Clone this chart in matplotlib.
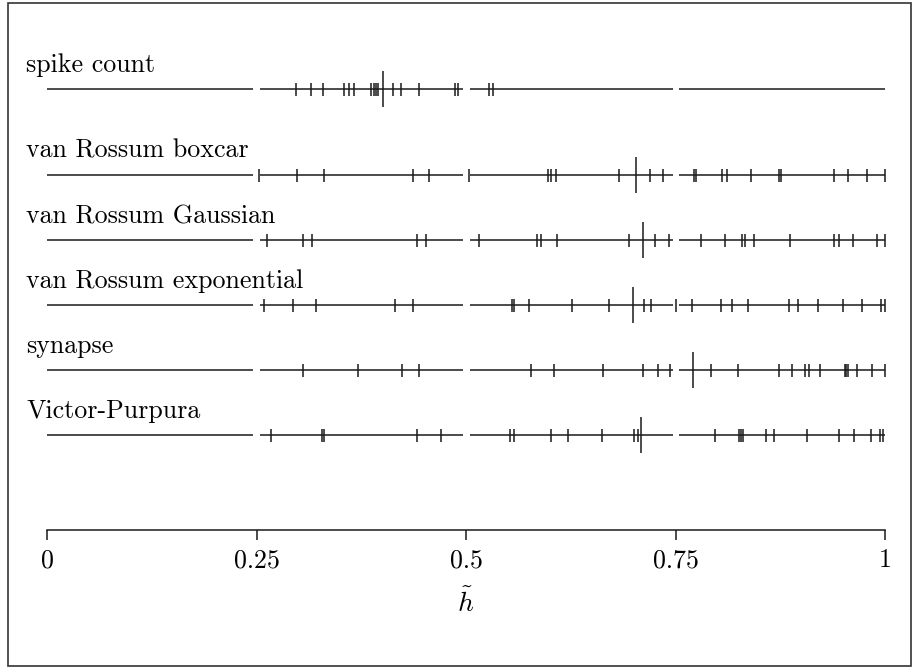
import numpy as np
import matplotlib
matplotlib.use('Agg')
import matplotlib.pyplot as plt
from matplotlib.patches import Rectangle

# serif look (Computer Modern ships with matplotlib)
plt.rcParams['font.family'] = 'serif'
plt.rcParams['font.serif'] = ['cmr10', 'DejaVu Serif']
plt.rcParams['mathtext.fontset'] = 'cm'
plt.rcParams['axes.unicode_minus'] = False

### DATA ###

names = ['spike count', 'van Rossum boxcar', 'van Rossum Gaussian',
         'van Rossum exponential', 'synapse', 'Victor-Purpura']

spike_count = [0.297, 0.315, 0.329, 0.354, 0.360, 0.366, 0.387, 0.390, 0.3926,
               0.395, 0.4125, 0.4224, 0.444, 0.487, 0.491, 0.528, 0.5326]
vr_boxcar = [0.253, 0.298, 0.3305, 0.4364, 0.456, 0.504, 0.598, 0.602, 0.607,
             0.682, 0.7196, 0.7355, 0.772, 0.774, 0.805, 0.811, 0.8397, 0.874,
             0.876, 0.939, 0.956, 0.979, 1.0]
vr_gaussian = [0.262, 0.306, 0.3166, 0.441, 0.452, 0.5155, 0.5843, 0.590, 0.609,
               0.695, 0.7255, 0.742, 0.781, 0.809, 0.829, 0.833, 0.844, 0.8866,
               0.939, 0.9455, 0.962, 0.990, 1.0]
vr_exponential = [0.2593, 0.293, 0.3206, 0.415, 0.437, 0.5553, 0.5577, 0.575,
                  0.627, 0.6706, 0.7128, 0.7204, 0.750, 0.770, 0.804, 0.818,
                  0.836, 0.8854, 0.8966, 0.920, 0.950, 0.973, 0.995, 1.0]
synapse = [0.305, 0.371, 0.424, 0.444, 0.578, 0.605, 0.664, 0.711, 0.7295,
           0.744, 0.792, 0.825, 0.8735, 0.889, 0.9045, 0.909, 0.9224, 0.952,
           0.954, 0.956, 0.967, 0.984, 1.0]
victor_purpura = [0.267, 0.3287, 0.3307, 0.442, 0.470, 0.5525, 0.5577, 0.602,
                  0.622, 0.662, 0.7008, 0.705, 0.797, 0.826, 0.828, 0.830,
                  0.8576, 0.867, 0.907, 0.945, 0.963, 0.9833, 0.994, 0.998]

# long marker per row
means = [0.401, 0.7025, 0.7108, 0.6997, 0.7705, 0.709]

# the four quarter bands drawn under each row
seg_starts = [0.0, 0.254, 0.505, 0.754]
seg_ends = [0.246, 0.496, 0.7466, 1.0]

rows = [spike_count, vr_boxcar, vr_gaussian, vr_exponential, synapse, victor_purpura]

xticks = [0, 0.25, 0.5, 0.75, 1]
xticklabels = ['0', '0.25', '0.5', '0.75', '1']

### LAYOUT (pixel units on y) ###

W, H = 914, 668
x0_px, x1_px = 47, 885
row_y = [89, 175, 240, 305, 370, 435]
axis_y = 530
col = '#1a1a1a'

fig = plt.figure(figsize=(W / 100, H / 100), dpi=100)
ax = fig.add_axes([0, 0, 1, 1])
scale = x1_px - x0_px
ax.set_xlim(-x0_px / scale, (W - x0_px) / scale)
ax.set_ylim(H, 0)

for name, vals, m, y in zip(names, rows, means, row_y):
    ax.hlines([y] * len(seg_starts), seg_starts, seg_ends, color=col, lw=1.1)
    ax.vlines(vals, y - 6.5, y + 6.5, color=col, lw=1.1)
    ax.vlines(m, y - 18, y + 18, color=col, lw=1.1)
    ax.text(-0.025, y - 17, name, fontsize=18.7, ha='left', va='baseline')

# bottom axis
for s in ['left', 'right', 'top']:
    ax.spines[s].set_visible(False)
ax.spines['bottom'].set_position(('data', axis_y))
ax.spines['bottom'].set_bounds(0, 1)
ax.spines['bottom'].set_linewidth(1.1)
ax.spines['bottom'].set_color(col)
ax.set_xticks(xticks)
ax.set_xticklabels(xticklabels, fontsize=18.7)
ax.tick_params(axis='x', direction='out', length=7.5, width=1.1, color=col, pad=6)
ax.set_yticks([])

ax.text(0.5, 603, r'$\tilde{h}$', fontsize=20, ha='center', va='center')

# frame around the whole picture
fig.add_artist(Rectangle((8 / W, 2 / H), (911 - 8) / W, (665 - 2) / H,
                         transform=fig.transFigure, fill=False,
                         edgecolor='#333333', lw=1.2))

fig.savefig('out.png', dpi=100)
